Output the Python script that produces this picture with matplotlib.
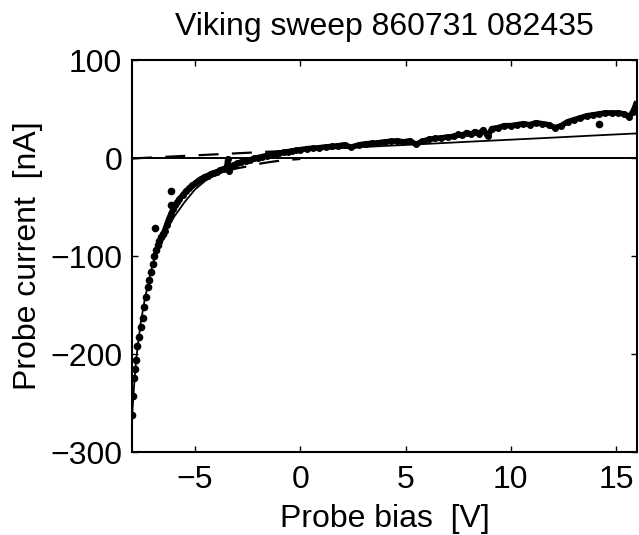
import matplotlib
matplotlib.use("Agg")
import matplotlib.pyplot as plt
import numpy as np

# sparse dots at the steep left end of the sweep
left_bias = [-7.98, -7.96, -7.92, -7.88, -7.82, -7.74, -7.66, -7.58, -7.50, -7.42, -7.34,
             -7.26, -7.18, -7.10, -7.02, -6.94, -6.86, -6.78, -6.70, -6.62, -6.54]
left_current = [-262, -243, -224, -215, -206, -192, -183, -172, -163, -152, -142,
                -132, -124, -116, -108, -100, -94, -89, -85, -81, -78]

# dense part of the sweep (dots merge into a thick band)
bias = [-6.45, -6.35, -6.25, -6.15, -6.05, -5.95, -5.85, -5.75, -5.6, -5.45, -5.3, -5.15,
        -5.0, -4.85, -4.7, -4.55, -4.4, -4.25, -4.1, -3.95, -3.8, -3.65, -3.5, -3.45,
        -3.4, -3.3, -3.15, -3.0, -2.8, -2.6, -2.4, -2.2, -2.0, -1.8, -1.6, -1.4, -1.2,
        -1.0, -0.8, -0.6, -0.4, -0.2, 0.0, 0.3, 0.6, 0.9, 1.2, 1.5, 1.8, 2.1, 2.4, 2.8,
        3.1, 3.4, 3.7, 4.0, 4.3, 4.6, 4.9, 5.2, 5.5, 5.8, 6.1, 6.4, 6.7, 7.0, 7.3, 7.5,
        7.7, 7.9, 8.1, 8.3, 8.5, 8.7, 8.9, 9.1, 9.4, 9.7, 10.0, 10.3, 10.6, 10.9, 11.2,
        11.5, 11.8, 12.1, 12.4, 12.7, 13.0, 13.3, 13.6, 13.9, 14.2, 14.5, 14.8, 15.1,
        15.4, 15.6, 15.8, 15.95]
current = [-74, -68, -62, -57, -52, -48, -45, -42, -38, -34, -31, -28,
           -26, -23, -21, -19, -18, -16, -15, -14, -12, -11, -10, -1,
           -13, -8, -7, -5.5, -4, -3, -2, -0.5, 0.5, 1.5, 2.5, 3.2, 4,
           5, 5.8, 6.5, 7.2, 7.8, 8.5, 9.5, 10, 10.5, 11.3, 11.8, 12.5, 13.5, 11, 13.5,
           14.5, 15, 15.5, 16.5, 17, 17.5, 16.5, 17.5, 14, 17, 19, 20, 20.5, 21.5, 22, 24,
           23, 26, 24, 27, 25, 29, 22, 30, 31, 33, 33, 34, 35, 34, 36,
           35, 34, 31, 33, 37, 39, 41, 43, 44, 45, 46, 46, 46,
           45, 42, 47, 55]

# stray points
stray_bias = [-6.9, -6.17, -6.17, 14.2]
stray_current = [-71, -34, -48, 34.7]

# fitted characteristic
fit_bias = [-8.0, -7.9, -7.8, -7.6, -7.4, -7.2, -7.0, -6.8, -6.5, -6.0, -5.5, -5.0, -4.5,
            -4.0, -3.5, -3.0, -2.5, -2.0, -1.5, -1.0, -0.5, 0, 1, 2, 4, 6, 8, 10, 12, 14, 16]
fit_current = [-265, -232, -205, -170, -145, -125, -107, -94, -79, -60, -45, -32, -23,
               -16, -10, -5.5, -2, 0.5, 2.8, 4.8, 6.5, 8, 9.2, 10.2, 12.3, 14.4, 16.6,
               18.7, 20.8, 23, 25.1]

# dashed components
lin_bias = [-8.0, 0.0]
lin_current = [-0.5, 8.0]
exp_bias = [-3.5, -3.0, -2.5, -2.0, -1.5, -1.0, -0.5, 0.0]
exp_current = [-13, -10.5, -8.5, -6, -4.3, -2.8, -1.8, -1.0]

plt.rcParams['font.family'] = ['Liberation Sans', 'DejaVu Sans']
fig = plt.figure(figsize=(6.39, 5.35), dpi=100)
ax = fig.add_axes([132/639, 1 - 452/535, 505/639, 392/535])

ax.axhline(0, color='black', lw=1.4)
ax.plot(fit_bias, fit_current, color='black', lw=1.3)
ax.plot(lin_bias, lin_current, color='black', lw=1.6, ls=(0, (9, 6)))
ax.plot(exp_bias, exp_current, color='black', lw=1.6, ls=(0, (9, 6)))
ax.plot(bias, current, color='black', lw=4, marker='o', ms=4)
ax.plot(left_bias, left_current, 'o', color='black', ms=4.5)
ax.plot(stray_bias, stray_current, 'o', color='black', ms=4.5)

ax.set_xlim(-8, 16)
ax.set_ylim(-300, 100)
ax.set_xticks([-5, 0, 5, 10, 15])
ax.set_yticks([-300, -200, -100, 0, 100])
ax.tick_params(direction='in', length=4, width=1, top=True, right=True, labelsize=23)
ax.tick_params(axis='x', pad=9)
ax.tick_params(axis='y', pad=7)
for s in ax.spines.values():
    s.set_linewidth(1.5)

ax.set_title("Viking sweep 860731 082435", fontsize=23, pad=18)
ax.set_xlabel("Probe bias  [V]", fontsize=23, labelpad=7)
ax.set_ylabel("Probe current  [nA]", fontsize=23, labelpad=5)

fig.savefig("out.png", dpi=100)
